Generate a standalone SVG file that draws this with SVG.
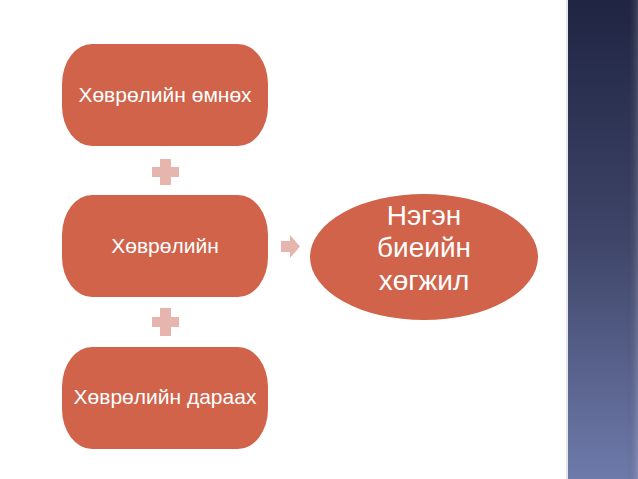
<svg xmlns="http://www.w3.org/2000/svg" width="638" height="479" viewBox="0 0 638 479">
<defs>
<linearGradient id="stripe" x1="0" y1="0" x2="0" y2="1">
<stop offset="0" stop-color="#1f2442"/>
<stop offset="0.5" stop-color="#3e4568"/>
<stop offset="1" stop-color="#6e7aaa"/>
</linearGradient>
<linearGradient id="edge" x1="0" y1="0" x2="1" y2="0">
<stop offset="0" stop-color="#000" stop-opacity="0"/>
<stop offset="1" stop-color="#fff" stop-opacity="0.15"/>
</linearGradient>
</defs>
<style>
.node{fill:#D0634A;}
.lbl{fill:#ffffff;font-family:"Liberation Sans",Arial,sans-serif;font-size:21px;text-anchor:middle;}
.big{font-size:28px;}
.conn{fill:#E5B5AE;}
</style>
<rect x="0" y="0" width="638" height="479" fill="#ffffff"/>
<rect x="566" y="0" width="2" height="479" fill="#e4e6ec"/>
<rect x="568" y="0" width="70" height="479" fill="url(#stripe)"/>
<rect x="626" y="0" width="12" height="479" fill="url(#edge)"/>

<g id="connectors">
<path class="conn" d="M160,159 H171 V167 H179 V177 H171 V185 H160 V177 H152 V167 H160 Z"/>
<path class="conn" d="M160,308 H171 V317 H179 V327 H171 V336 H160 V327 H152 V317 H160 Z"/>
<path class="conn" d="M281,241 H290 V235 L300,246.5 L290,258 V252 H281 Z"/>
</g>

<g id="node1">
<rect class="node" x="62" y="44" width="206" height="102" rx="30" ry="40"/>
<text class="lbl" x="165" y="102">Хөврөлийн өмнөх</text>
</g>
<g id="node2">
<rect class="node" x="62" y="195" width="206" height="102" rx="30" ry="40"/>
<text class="lbl" x="165" y="253">Хөврөлийн</text>
</g>
<g id="node3">
<rect class="node" x="62" y="347" width="206" height="102" rx="30" ry="40"/>
<text class="lbl" x="165" y="404">Хөврөлийн дараах</text>
</g>
<g id="node4">
<ellipse class="node" cx="424" cy="257" rx="114" ry="63"/>
<text class="lbl big" x="424" y="225">Нэгэн</text>
<text class="lbl big" x="424" y="257">биеийн</text>
<text class="lbl big" x="424" y="290">хөгжил</text>
</g>
</svg>
